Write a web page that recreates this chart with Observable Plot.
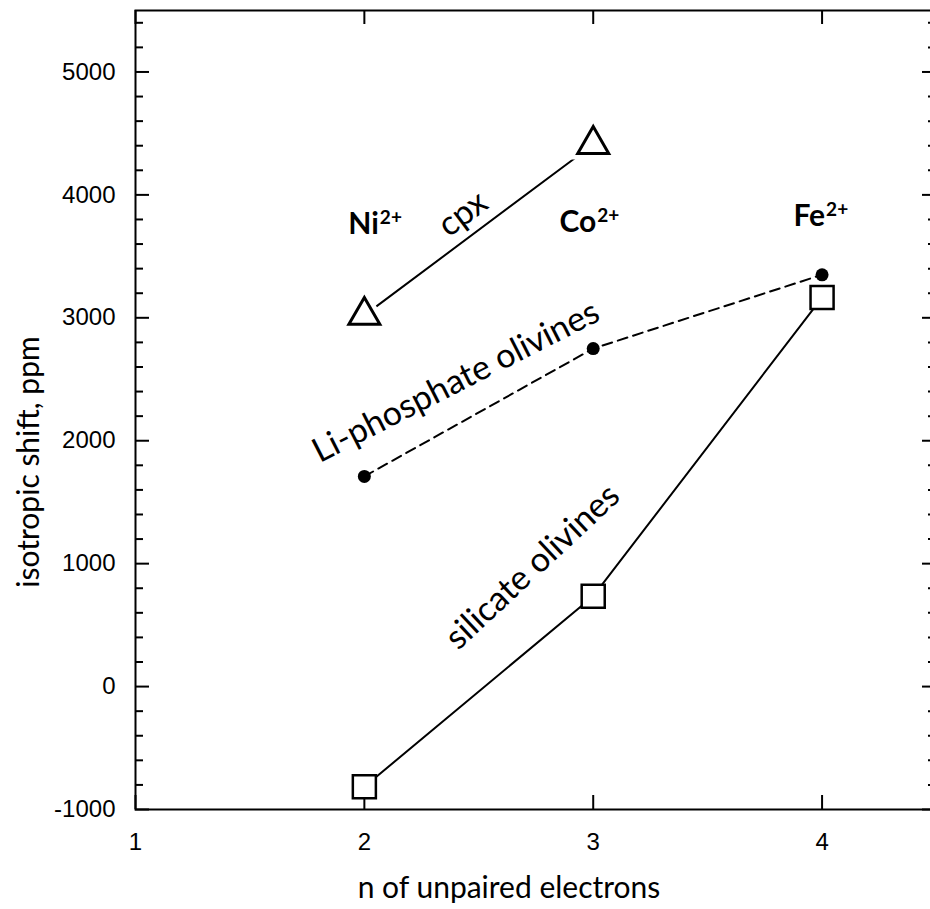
<!DOCTYPE html>
<html><head><meta charset="utf-8">
<script src="https://cdn.jsdelivr.net/npm/d3@7"></script>
<script src="https://cdn.jsdelivr.net/npm/@observablehq/plot@0.6"></script>
<style>html,body{margin:0;padding:0;background:#fff;overflow:hidden}</style>
</head><body><div id="chart"></div>
<script>
// ---- data ----
const cpxX = [2, 3];
const cpxShift = [3020, 4410];
const phosphateX = [2, 3, 4];
const phosphateShift = [1710, 2750, 3350];
const silicateX = [2, 3, 4];
const silicateShift = [-815, 735, 3165];
const ionNames = ["Ni", "Co", "Fe"];
const ionCharge = ["2+", "2+", "2+"];
const ionX = [1.93, 2.853, 3.875];
const ionY = [3680, 3700, 3745];
const seriesLabels = ["cpx", "Li-phosphate olivines", "silicate olivines"];
const labelX = [2.43, 2.40, 2.735];
const labelY = [3846, 2481, 975];
const labelAngle = [-37, -27, -43];
const xTicks = [1, 2, 3, 4];
const xTickLabels = ["1", "2", "3", "4"];
const yTicks = [-1000, 0, 1000, 2000, 3000, 4000, 5000];
const yTickLabels = ["-1000", "0", "1000", "2000", "3000", "4000", "5000"];
const yMinor = d3.range(-800, 5500, 200).filter(v => v % 1000 !== 0);
const xTitle = "n of unpaired electrons";
const yTitle = "isotropic shift, ppm";

// ---- layout ----
const W = 930, H = 909, mL = 135, mR = -6, mT = 10, mB = 100;
const fw = W - mL - mR, fh = H - mT - mB;
const TXT = "Lato";
const NUM = "Liberation Sans";

const cpx = cpxX.map((x, i) => ({x, y: cpxShift[i]}));
const phos = phosphateX.map((x, i) => ({x, y: phosphateShift[i]}));
const sil = silicateX.map((x, i) => ({x, y: silicateShift[i]}));

const chart = Plot.plot({
  width: W, height: H,
  marginLeft: mL, marginRight: mR, marginTop: mT, marginBottom: mB,
  x: {domain: [1, 4.5], axis: null},
  y: {domain: [-1000, 5500], axis: null},
  style: {background: "white", color: "black", fontFamily: NUM},
  marks: [
    Plot.frame({stroke: "black", strokeWidth: 2}),
    Plot.tickY(yTicks, {y: d => d, insetRight: fw - 14, strokeWidth: 2}),
    Plot.tickY(yTicks, {y: d => d, insetLeft: fw - 14, strokeWidth: 2}),
    Plot.tickY(yMinor, {y: d => d, insetRight: fw - 8, strokeWidth: 2}),
    Plot.tickY(yMinor, {y: d => d, insetLeft: fw - 8, strokeWidth: 2}),
    Plot.tickX(xTicks, {x: d => d, insetTop: fh - 14, strokeWidth: 2}),
    Plot.tickX(xTicks, {x: d => d, insetBottom: fh - 14, strokeWidth: 2}),
    Plot.text(yTicks, {y: d => d, text: (d, i) => yTickLabels[i], frameAnchor: "left", dx: -20, textAnchor: "end", lineAnchor: "middle", fontSize: 24, fontFamily: NUM}),
    Plot.text(xTicks, {x: d => d, text: (d, i) => xTickLabels[i], frameAnchor: "bottom", dy: 40, textAnchor: "middle", lineAnchor: "bottom", fontSize: 24, fontFamily: NUM}),
    Plot.text([xTitle], {frameAnchor: "bottom", dx: -27, dy: 88, textAnchor: "middle", lineAnchor: "bottom", fontSize: 30, fontFamily: TXT}),
    Plot.text([yTitle], {frameAnchor: "left", rotate: -90, dx: -106, dy: 52, textAnchor: "middle", lineAnchor: "middle", fontSize: 30, fontFamily: TXT}),
    Plot.line(cpx, {x: "x", y: "y", stroke: "black", strokeWidth: 2}),
    Plot.line(phos, {x: "x", y: "y", stroke: "black", strokeWidth: 2, strokeDasharray: "10,6"}),
    Plot.line(sil, {x: "x", y: "y", stroke: "black", strokeWidth: 2}),
    Plot.dot(cpx, {x: "x", y: "y", symbol: "triangle", r: 11.5, fill: "white", stroke: "white", strokeWidth: 12}),
    Plot.dot(cpx, {x: "x", y: "y", symbol: "triangle", r: 11.5, fill: "white", stroke: "black", strokeWidth: 3}),
    Plot.dot(sil, {x: "x", y: "y", symbol: "square", r: 13, fill: "white", stroke: "black", strokeWidth: 2.5}),
    Plot.dot(phos, {x: "x", y: "y", r: 6.5, fill: "black"}),
    Plot.text(seriesLabels, {x: (d, i) => labelX[i], y: (d, i) => labelY[i], rotate: (d, i) => labelAngle[i], textAnchor: "middle", lineAnchor: "middle", fontSize: 34, fontFamily: TXT}),
    Plot.text(ionNames, {x: (d, i) => ionX[i], y: (d, i) => ionY[i], textAnchor: "start", lineAnchor: "bottom", fontSize: 30, fontWeight: "bold", fontFamily: TXT})
  ]
});

// superscript charges as tspans
chart.querySelectorAll("text").forEach(t => {
  const k = ionNames.indexOf(t.textContent);
  const bold = t.getAttribute("font-weight") === "bold" || t.closest("g[font-weight=bold]");
  if (k >= 0 && bold) {
    const ts = document.createElementNS("http://www.w3.org/2000/svg", "tspan");
    ts.setAttribute("font-size", "19");
    ts.setAttribute("dy", "-10");
    ts.setAttribute("dx", "1");
    ts.textContent = ionCharge[k];
    t.appendChild(ts);
  }
});
document.getElementById("chart").appendChild(chart);
</script>
</body></html>
